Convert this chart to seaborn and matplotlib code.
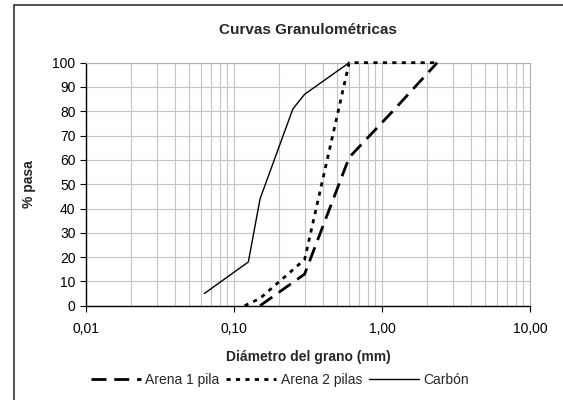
import pandas as pd
import seaborn as sns
import matplotlib
matplotlib.use("Agg")
import matplotlib.pyplot as plt
from matplotlib.ticker import FuncFormatter, LogLocator, MultipleLocator
from matplotlib.lines import Line2D
from matplotlib.patches import Rectangle

# Datos
arena1_d = [0.15, 0.30, 0.60, 1.18, 2.36]
arena1_p = [0, 13, 61, 80, 100]
arena2_d = [0.118, 0.15, 0.30, 0.60, 1.18, 2.36]
arena2_p = [0, 3, 19, 100, 100, 100]
carbon_d = [0.063, 0.125, 0.15, 0.25, 0.30, 0.60]
carbon_p = [5, 18, 44, 81, 87, 100]

series = ["Arena 1 pila", "Arena 2 pilas", "Carbón"]
estilos = {
    "Arena 1 pila": dict(lw=2.0, ls=(0, (5.4, 2.8))),
    "Arena 2 pilas": dict(lw=2.0, ls=(0, (1.5, 1.9))),
    "Carbón": dict(lw=1.0, ls="-"),
}

df = pd.concat([
    pd.DataFrame({"d": arena1_d, "p": arena1_p, "serie": series[0]}),
    pd.DataFrame({"d": arena2_d, "p": arena2_p, "serie": series[1]}),
    pd.DataFrame({"d": carbon_d, "p": carbon_p, "serie": series[2]}),
])

sns.set_style("white")
plt.rcParams["font.family"] = ["Liberation Sans", "DejaVu Sans"]

fig = plt.figure(figsize=(5.63, 4.0), dpi=100)
ax = fig.add_axes([86 / 563, 1 - 305.7 / 400, (530 - 86) / 563, (305.7 - 62.7) / 400])

# marco exterior
fig.patches.append(Rectangle((14 / 563, -0.05), 1.2, 1 - 5 / 400 + 0.05,
                             transform=fig.transFigure, fill=False,
                             edgecolor="#333333", lw=1.2))

for s in series:
    sub = df[df["serie"] == s]
    sns.lineplot(data=sub, x="d", y="p", ax=ax, color="black",
                 linewidth=estilos[s]["lw"], linestyle=estilos[s]["ls"],
                 estimator=None, sort=False, legend=False, clip_on=False,
                 zorder=3)

ax.set_xscale("log")
ax.set_xlim(0.01, 10)
ax.set_ylim(0, 100)
ax.yaxis.set_major_locator(MultipleLocator(10))
ax.xaxis.set_major_locator(LogLocator(base=10))
ax.xaxis.set_minor_locator(LogLocator(base=10, subs=range(2, 10)))
ax.xaxis.set_major_formatter(FuncFormatter(lambda v, p: f"{v:.2f}".replace(".", ",")))
ax.xaxis.set_minor_formatter(FuncFormatter(lambda v, p: ""))

ax.grid(True, which="both", axis="x", color="#c4c4c4", lw=0.8)
ax.grid(True, which="major", axis="y", color="#c4c4c4", lw=0.8)
ax.set_axisbelow(True)

for side in ["top", "right"]:
    ax.spines[side].set_color("#b0b0b0")
    ax.spines[side].set_linewidth(0.8)
for side in ["left", "bottom"]:
    ax.spines[side].set_color("black")
    ax.spines[side].set_linewidth(1.0)

ax.tick_params(axis="both", which="major", direction="out", length=4, width=0.8,
               labelsize=10, colors="black", left=True, bottom=True)
ax.tick_params(axis="x", which="major", pad=8)
ax.tick_params(axis="x", which="minor", length=0)

ax.set_title("Curvas Granulométricas", fontsize=11, fontweight="bold", pad=21)
ax.set_xlabel("Diámetro del grano (mm)", fontsize=10, fontweight="bold", labelpad=10)
ax.set_ylabel("% pasa", fontsize=10, fontweight="bold", labelpad=12)

handles = [Line2D([0], [0], color="black", lw=estilos[s]["lw"], ls=estilos[s]["ls"])
           for s in series]
fig.legend(handles, series, loc="center", bbox_to_anchor=(0.497, 0.05), ncol=3,
           frameon=False, fontsize=10, handlelength=3.6, columnspacing=0.5,
           handletextpad=0.3)

fig.savefig("out.png", dpi=100)
